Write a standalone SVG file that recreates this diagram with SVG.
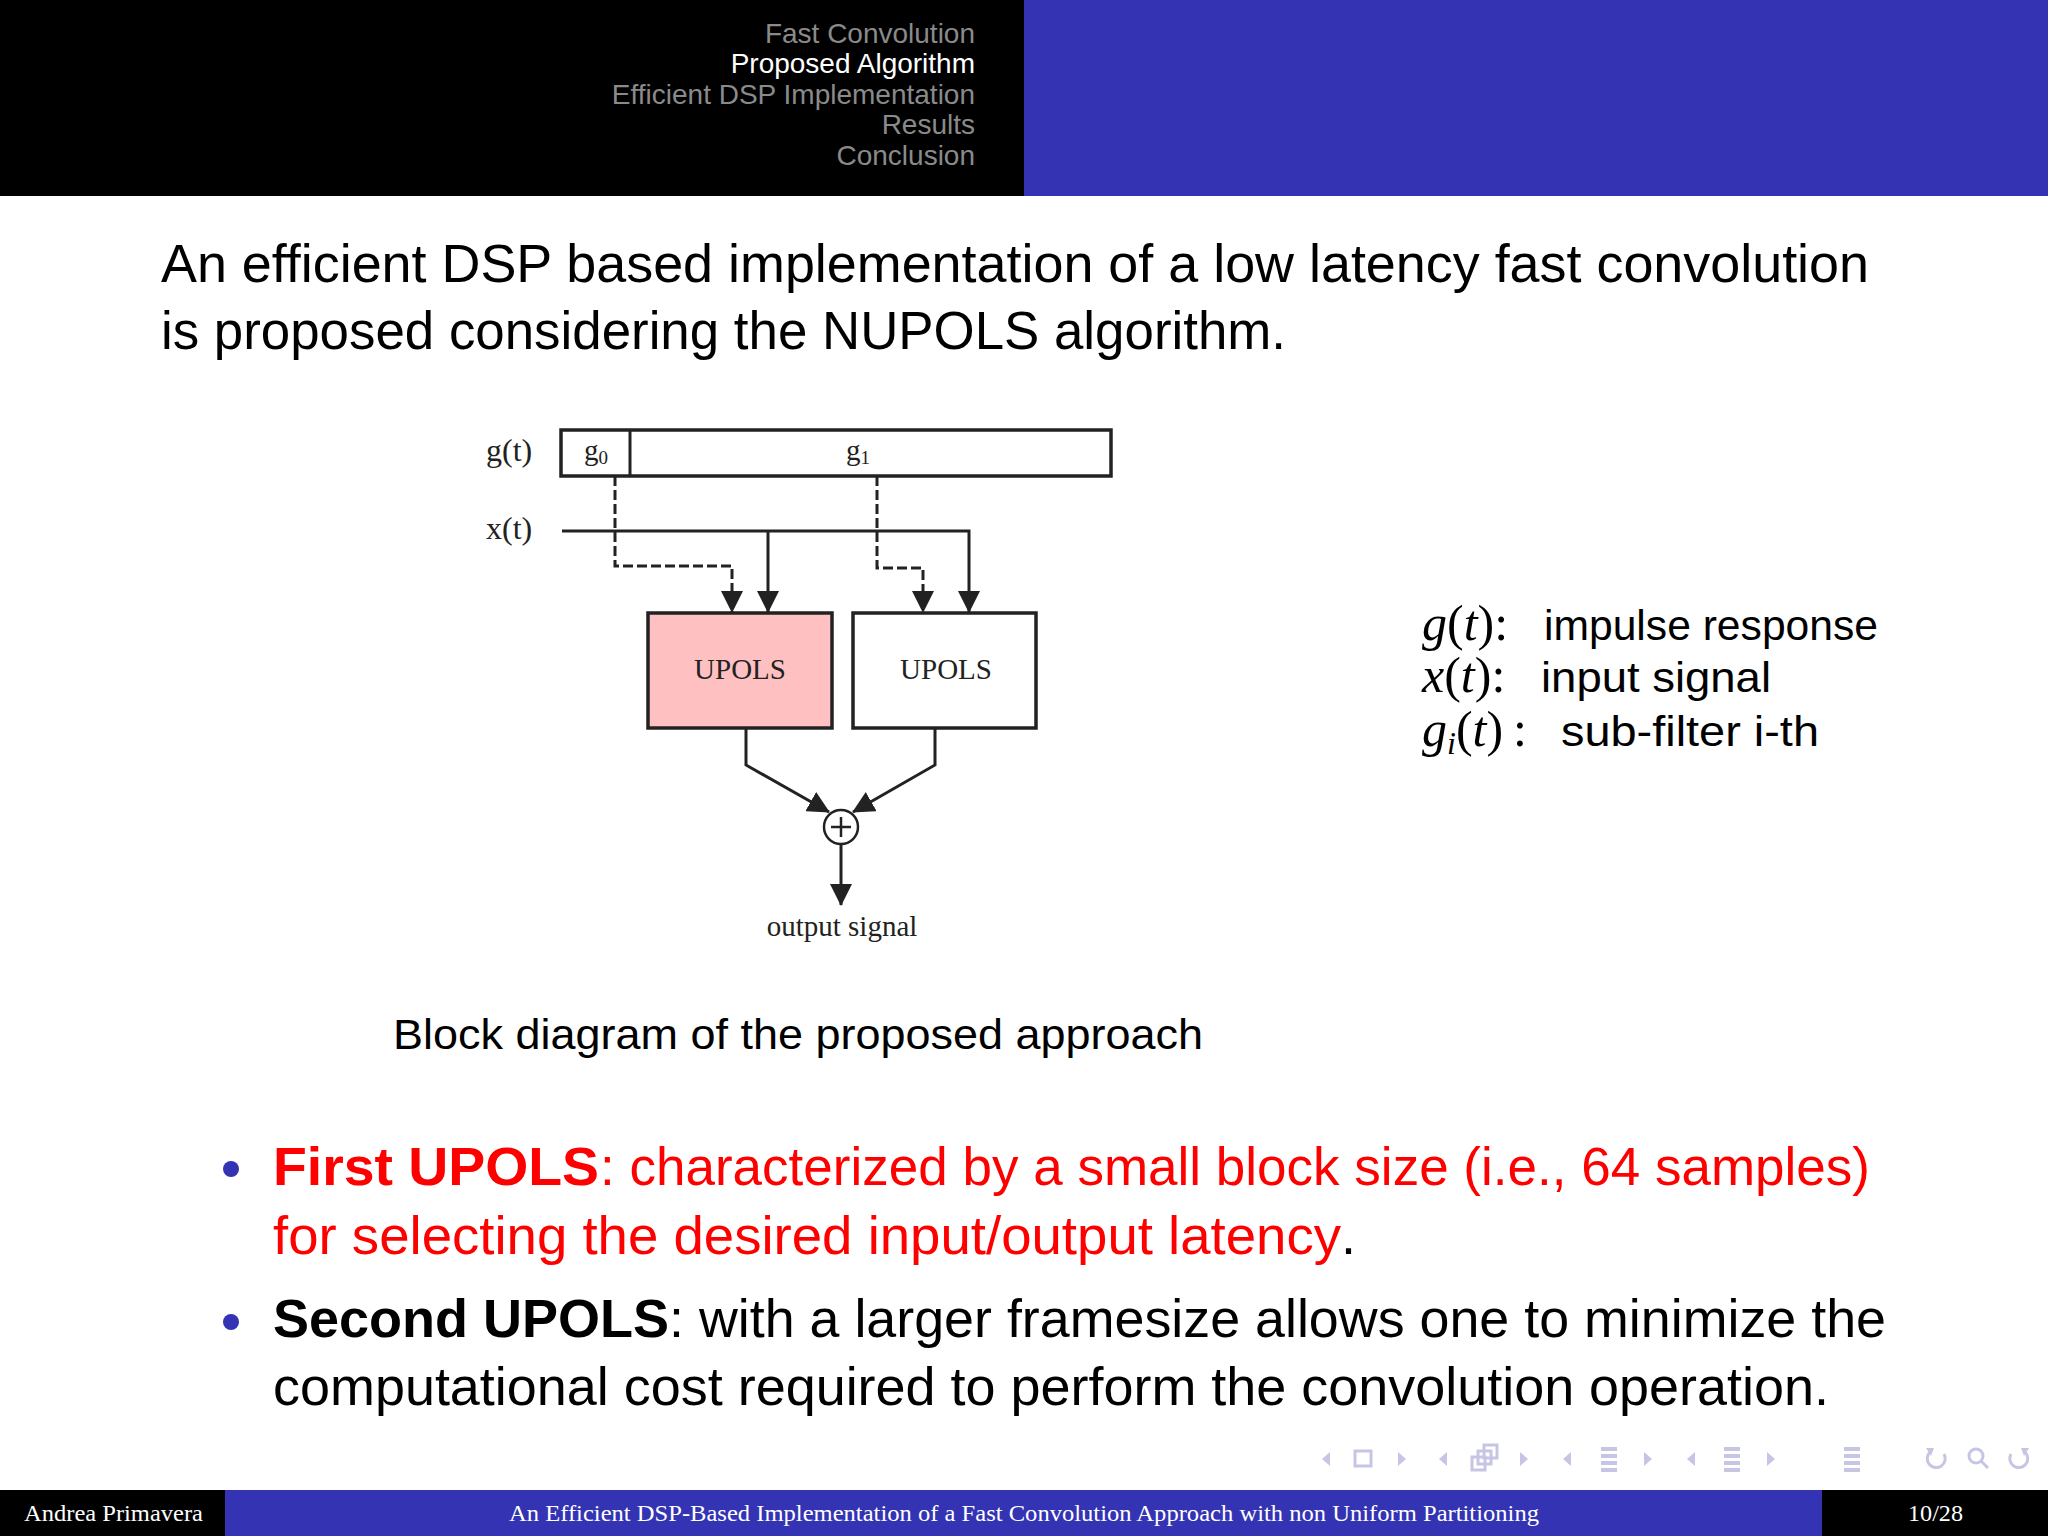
<svg xmlns="http://www.w3.org/2000/svg" width="2048" height="1536" viewBox="0 0 2048 1536">
<style>
.hdr{font-family:"Liberation Sans",Arial,sans-serif;font-size:28px;fill:#8a8a8a;text-anchor:end}
.hdr.cur{fill:#ffffff}
.big{font-family:"Liberation Sans",Arial,sans-serif;font-size:54px;fill:#000}
.red{fill:#f00}
.bold{font-weight:bold}
.ser{font-family:"Liberation Serif","Times New Roman",serif;fill:#222}
.leg{font-family:"Liberation Sans",Arial,sans-serif;font-size:43px;fill:#000}
.math{font-family:"Liberation Serif","Times New Roman",serif;font-size:50px;fill:#000}
.ln{fill:none;stroke:#222;stroke-width:3}
.dash{fill:none;stroke:#222;stroke-width:3;stroke-dasharray:10 4}
.box{stroke:#222;stroke-width:3.5}
.foot{font-family:"Liberation Serif","Times New Roman",serif;font-size:24px;fill:#fff}
.nav{fill:#c6c6e4;stroke:none}
.navs{fill:none;stroke:#c6c6e4;stroke-width:3}
</style>
<defs>
<marker id="ah" markerUnits="userSpaceOnUse" markerWidth="22" markerHeight="22" refX="21" refY="11" orient="auto">
<path d="M0,0 L22,11 L0,22 z" fill="#222"/>
</marker>
</defs>
<rect x="0" y="0" width="2048" height="1536" fill="#fff"/>
<!-- header -->
<g id="header">
<rect x="0" y="0" width="1024" height="196" fill="#000"/>
<rect x="1024" y="0" width="1024" height="196" fill="#3333b3"/>
<text class="hdr" x="975" y="43">Fast Convolution</text>
<text class="hdr cur" x="975" y="73">Proposed Algorithm</text>
<text class="hdr" x="975" y="104">Efficient DSP Implementation</text>
<text class="hdr" x="975" y="134">Results</text>
<text class="hdr" x="975" y="165">Conclusion</text>
</g>
<!-- title -->
<g id="title">
<text class="big" x="161" y="282" textLength="1708" lengthAdjust="spacingAndGlyphs">An efficient DSP based implementation of a low latency fast convolution</text>
<text class="big" x="161" y="349" textLength="1125" lengthAdjust="spacingAndGlyphs">is proposed considering the NUPOLS algorithm.</text>
</g>
<!-- diagram nodes -->
<g id="label-g">
<text class="ser" x="486" y="461" font-size="32">g(t)</text>
</g>
<g id="label-x">
<text class="ser" x="486" y="539" font-size="32">x(t)</text>
</g>
<g id="gbar">
<rect x="561" y="430" width="550" height="46" fill="#fff" class="box"/>
<line x1="630" y1="430" x2="630" y2="476" stroke="#222" stroke-width="3"/>
<text class="ser" x="596" y="460" font-size="29" text-anchor="middle">g<tspan font-size="19" dy="4">0</tspan></text>
<text class="ser" x="858" y="460" font-size="29" text-anchor="middle">g<tspan font-size="19" dy="4">1</tspan></text>
</g>
<g id="upols1">
<rect x="648" y="613" width="184" height="115" fill="#ffc0c2" class="box"/>
<text class="ser" x="740" y="679" font-size="29" text-anchor="middle" fill="#5a1818">UPOLS</text>
</g>
<g id="upols2">
<rect x="853" y="613" width="183" height="115" fill="#fff" class="box"/>
<text class="ser" x="946" y="679" font-size="29" text-anchor="middle">UPOLS</text>
</g>
<g id="sum">
<circle cx="841" cy="827" r="17" fill="#fff" stroke="#222" stroke-width="2.5"/>
<line x1="831" y1="827" x2="851" y2="827" stroke="#222" stroke-width="2.5"/>
<line x1="841" y1="817" x2="841" y2="837" stroke="#222" stroke-width="2.5"/>
</g>
<g id="output">
<text class="ser" x="842" y="936" font-size="29" text-anchor="middle">output signal</text>
</g>
<!-- connectors -->
<g id="connectors">
<polyline class="ln" points="562,531 969,531 969,612" marker-end="url(#ah)"/>
<line class="ln" x1="768" y1="531" x2="768" y2="612" marker-end="url(#ah)"/>
<polyline class="dash" points="615,476 615,566 732,566 732,612" marker-end="url(#ah)"/>
<polyline class="dash" points="877,476 877,568 923,568 923,612" marker-end="url(#ah)"/>
<polyline class="ln" points="746,728 746,765 829,812" marker-end="url(#ah)"/>
<polyline class="ln" points="935,728 935,765 853,812" marker-end="url(#ah)"/>
<line class="ln" x1="841" y1="844" x2="841" y2="905" marker-end="url(#ah)"/>
</g>
<!-- legend -->
<g id="legend">
<text class="math" x="1422" y="640"><tspan font-style="italic">g</tspan>(<tspan font-style="italic">t</tspan>):</text>
<text class="leg" x="1544" y="640" textLength="334" lengthAdjust="spacingAndGlyphs">impulse response</text>
<text class="math" x="1422" y="692"><tspan font-style="italic">x</tspan>(<tspan font-style="italic">t</tspan>):</text>
<text class="leg" x="1541" y="692" textLength="230" lengthAdjust="spacingAndGlyphs">input signal</text>
<text class="math" x="1422" y="746"><tspan font-style="italic">g</tspan><tspan font-style="italic" font-size="32" dy="8">i</tspan><tspan dy="-8">(</tspan><tspan font-style="italic">t</tspan>)<tspan dx="10">:</tspan></text>
<text class="leg" x="1561" y="746" textLength="258" lengthAdjust="spacingAndGlyphs">sub-filter i-th</text>
</g>
<!-- caption -->
<g id="caption">
<text class="leg" x="393" y="1049" font-size="45" textLength="810" lengthAdjust="spacingAndGlyphs">Block diagram of the proposed approach</text>
</g>
<!-- bullets -->
<g id="bullets">
<circle cx="231" cy="1169" r="8" fill="#3333b3"/>
<text class="big red bold" x="273" y="1185" textLength="326" lengthAdjust="spacingAndGlyphs">First UPOLS</text>
<text class="big red" x="600" y="1185" textLength="1270" lengthAdjust="spacingAndGlyphs">: characterized by a small block size (i.e., 64 samples)</text>
<text class="big red" x="273" y="1254" textLength="1068" lengthAdjust="spacingAndGlyphs">for selecting the desired input/output latency</text>
<text class="big" x="1341" y="1254">.</text>
<circle cx="231" cy="1322" r="8" fill="#3333b3"/>
<text class="big bold" x="273" y="1337" textLength="396" lengthAdjust="spacingAndGlyphs">Second UPOLS</text>
<text class="big" x="669" y="1337" textLength="1217" lengthAdjust="spacingAndGlyphs">: with a larger framesize allows one to minimize the</text>
<text class="big" x="273" y="1405" textLength="1556" lengthAdjust="spacingAndGlyphs">computational cost required to perform the convolution operation.</text>
</g>
<!-- navigation symbols -->
<g id="nav">
<path class="nav" d="M1330,1452 L1322,1459 L1330,1466 z"/>
<rect class="navs" x="1355" y="1451" width="16" height="15"/>
<path class="nav" d="M1398,1452 L1406,1459 L1398,1466 z"/>
<path class="nav" d="M1447,1452 L1439,1459 L1447,1466 z"/>
<rect class="navs" x="1472" y="1457" width="13" height="13"/>
<rect class="navs" x="1478" y="1451" width="13" height="13" fill="#fff"/>
<rect class="navs" x="1484" y="1445" width="13" height="13" fill="#fff"/>
<path class="nav" d="M1520,1452 L1528,1459 L1520,1466 z"/>
<path class="nav" d="M1571,1452 L1563,1459 L1571,1466 z"/>
<rect class="nav" x="1601" y="1447" width="16" height="4"/>
<rect class="nav" x="1601" y="1454" width="16" height="4"/>
<rect class="nav" x="1601" y="1461" width="16" height="4"/>
<rect class="nav" x="1601" y="1468" width="16" height="4"/>
<path class="nav" d="M1644,1452 L1652,1459 L1644,1466 z"/>
<path class="nav" d="M1695,1452 L1687,1459 L1695,1466 z"/>
<rect class="nav" x="1724" y="1447" width="16" height="4"/>
<rect class="nav" x="1724" y="1454" width="16" height="4"/>
<rect class="nav" x="1724" y="1461" width="16" height="4"/>
<rect class="nav" x="1724" y="1468" width="16" height="4"/>
<path class="nav" d="M1767,1452 L1775,1459 L1767,1466 z"/>
<rect class="nav" x="1844" y="1447" width="16" height="4"/>
<rect class="nav" x="1844" y="1454" width="16" height="4"/>
<rect class="nav" x="1844" y="1461" width="16" height="4"/>
<rect class="nav" x="1844" y="1468" width="16" height="4"/>
<path class="navs" d="M1930,1452 A9,9 0 1 0 1944,1454"/>
<path class="nav" d="M1926,1448 L1934,1448 L1931,1456 z"/>
<circle class="navs" cx="1976" cy="1456" r="7"/>
<line class="navs" x1="1981" y1="1461" x2="1988" y2="1468"/>
<path class="navs" d="M2025,1452 A9,9 0 1 1 2011,1454"/>
<path class="nav" d="M2029,1448 L2021,1448 L2024,1456 z"/>
</g>
<!-- footer -->
<g id="footer">
<rect x="0" y="1490" width="225" height="46" fill="#000"/>
<rect x="225" y="1490" width="1597" height="46" fill="#3333b3"/>
<rect x="1822" y="1490" width="226" height="46" fill="#000"/>
<text class="foot" x="24" y="1521" textLength="179" lengthAdjust="spacingAndGlyphs">Andrea Primavera</text>
<text class="foot" x="509" y="1521" textLength="1030" lengthAdjust="spacingAndGlyphs">An Efficient DSP-Based Implementation of a Fast Convolution Approach with non Uniform Partitioning</text>
<text class="foot" x="1908" y="1521" textLength="55" lengthAdjust="spacingAndGlyphs">10/28</text>
</g>
</svg>
